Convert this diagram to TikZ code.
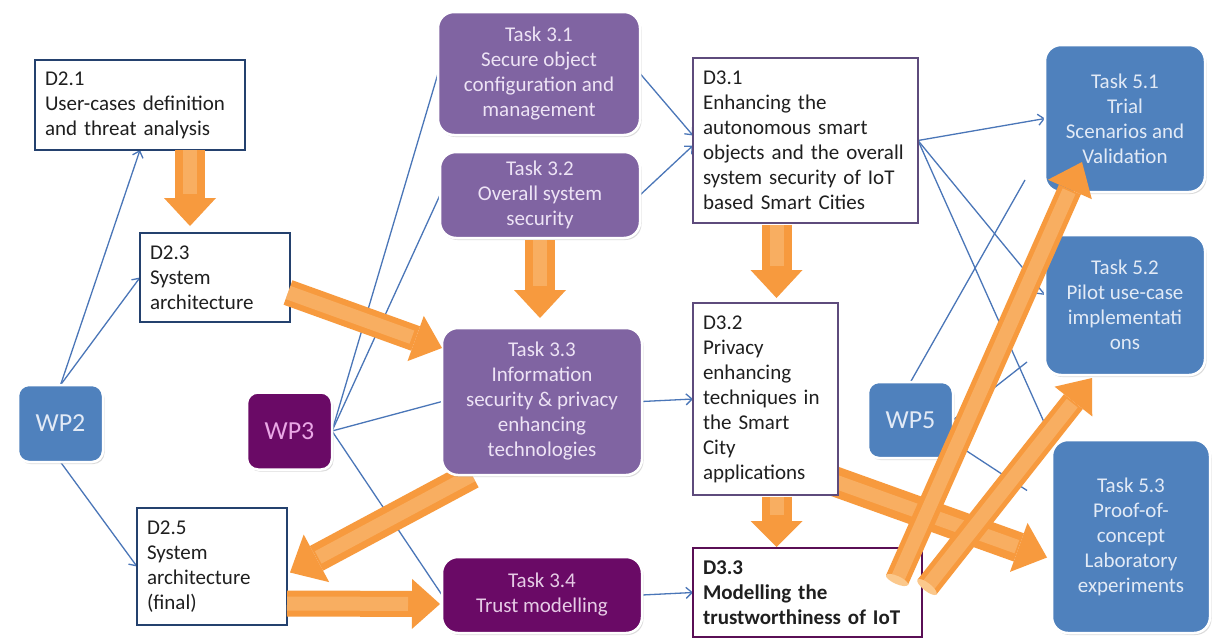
\documentclass[tikz,border=0pt]{standalone}
\usepackage{fontspec}
\setmainfont{Carlito}
\usetikzlibrary{arrows.meta,calc,shadows}

\definecolor{navyB}{HTML}{24416E}
\definecolor{purpB}{HTML}{5E4B7C}
\definecolor{plumB}{HTML}{5A0F55}
\definecolor{blueF}{HTML}{4F81BD}
\definecolor{purpF}{HTML}{8064A2}
\definecolor{plumF}{HTML}{6A0A66}
\definecolor{blueT}{HTML}{E2EAF6}
\definecolor{purpT}{HTML}{EDE3F5}
\definecolor{plumT}{HTML}{E6CBE6}
\definecolor{wpT}{HTML}{EAA8E6}
\definecolor{lineB}{HTML}{4A76B8}
\definecolor{orangeA}{HTML}{F79A3E}
\definecolor{orangeL}{HTML}{FBC88C}

\pgfdeclarelayer{paper}
\pgfdeclarelayer{back}
\pgfdeclarelayer{front}
\pgfsetlayers{paper,back,main,front}

% thick orange block arrow: shaft width, head width, head length, from, to
\newcommand{\orangearrow}[5]{%
  \draw[line width=#1, draw=orangeA, line cap=butt,
        -{Triangle[length=#3,width=#2,line width=0pt]}] #4 -- #5;
  \draw[line width=14pt, draw=orangeL, opacity=0.45, line cap=butt,
        shorten >=32pt] #4 -- #5;
}

\begin{document}
\begin{tikzpicture}[x=1pt,y=-1pt,
  dbox/.style={draw=navyB, line width=2.2pt, fill=white, inner xsep=10pt,
    inner ysep=4pt, align=left, text=black!88,
    font=\fontsize{21}{25}\selectfont, outer sep=0pt},
  rbox/.style={rounded corners=16pt, draw=white, line width=2.5pt,
    align=center, font=\fontsize{21}{25}\selectfont, inner sep=4pt,
    outer sep=0pt,
    drop shadow={shadow xshift=1.5pt, shadow yshift=-2pt, opacity=0.28}},
  ptask/.style={rbox, fill=purpF, text=purpT},
  ktask/.style={rbox, fill=plumF, text=plumT},
  btask/.style={rbox, fill=blueF, text=blueT},
  wpbox/.style={rbox, rounded corners=11pt, minimum width=85pt,
    minimum height=77pt, font=\fontsize{26}{30}\selectfont},
  link/.style={draw=lineB, line width=1.3pt},
  linkarrow/.style={link, -{Straight Barb[length=6pt,width=11pt]}},
]
\useasboundingbox (0,0) rectangle (1214,640);
\begin{pgfonlayer}{paper}
  \fill[white] (0,0) rectangle (1214,640);
\end{pgfonlayer}

% ---- WP2 deliverables
\node[dbox, text width=190pt, minimum height=90pt] (d21) at (140,105)
  {D2.1\\User-cases definition\\and threat analysis};
\node[dbox, text width=130pt, minimum height=89pt] (d23) at (215,277.5)
  {D2.3\\System\\architecture};
\node[dbox, text width=130pt, minimum height=117pt] (d25) at (212,566.5)
  {D2.5\\System\\architecture\\(final)};
\node[wpbox, fill=blueF, text=blueT] (wp2) at (60.5,423.5) {WP2};

% ---- WP3 tasks
\node[wpbox, fill=plumF, text=wpT] (wp3) at (289.5,431) {WP3};
\node[ptask, minimum width=202pt, minimum height=123pt] (t31) at (539,73.5)
  {Task 3.1\\Secure object\\configuration and\\management};
\node[ptask, minimum width=200pt, minimum height=86pt] (t32) at (540,195)
  {Task 3.2\\Overall system\\security};
\node[ptask, minimum width=200pt, minimum height=147pt] (t33) at (542,401.5)
  {Task 3.3\\Information\\security \& privacy\\enhancing\\technologies};
\node[ktask, minimum width=200pt, minimum height=76pt] (t34) at (542,595)
  {Task 3.4\\Trust modelling};

% ---- WP3 deliverables
\node[dbox, draw=purpB, text width=205pt, minimum height=165pt] (d31) at (805.5,140.5)
  {D3.1\\Enhancing the\\autonomous smart\\objects and the overall\\system security of IoT\\based Smart Cities};
\node[dbox, draw=purpB, text width=125pt, minimum height=192pt] (d32) at (765.5,399)
  {D3.2\\Privacy\\enhancing\\techniques in\\the Smart\\City\\applications};
\node[dbox, draw=plumB, line width=2.6pt, text width=209pt, minimum height=89pt,
  font=\fontsize{21}{25}\selectfont\bfseries] (d33) at (807.5,592.5)
  {D3.3\\Modelling the\\trustworthiness of IoT};

% ---- WP5 tasks
\node[wpbox, fill=blueF, text=blueT, minimum height=76pt] (wp5) at (910.5,420) {WP5};
\node[btask, minimum width=160pt, minimum height=147pt] (t51) at (1125,118.5)
  {Task 5.1\\Trial\\Scenarios and\\Validation};
\node[btask, minimum width=160pt, minimum height=140pt] (t52) at (1125,305)
  {Task 5.2\\Pilot use-case\\implementati\\ons};
\node[btask, minimum width=158pt, minimum height=193pt] (t53) at (1131,536.5)
  {Task 5.3\\Proof-of-\\concept\\Laboratory\\experiments};

% free ends of the WP5 links
\coordinate (w51) at ($(t51.south west)+(-20,-12)$);
\coordinate (w52) at ($(t52.south west)+(-18,-13)$);
\coordinate (w53) at ($(t53.west)+(-25,-46)$);

\begin{pgfonlayer}{back}
  % WP2 links
  \draw[linkarrow] (wp2.north) -- (d21.south);
  \draw[linkarrow] (wp2.north) -- (d23.west);
  \draw[linkarrow] (wp2.south) -- (d25.west);
  % WP3 links
  \draw[link] (wp3.east) -- (t31.west);
  \draw[link] (wp3.east) -- (t32.west);
  \draw[link] (wp3.east) -- (t33.west);
  \draw[link] (wp3.east) -- (t34.west);
  % tasks to deliverables
  \draw[linkarrow] (t31.east) -- ($(d31.west)+(0,-5)$);
  \draw[linkarrow] (t32.east) -- ($(d31.west)+(0,5)$);
  \draw[linkarrow] (t33.east) -- (d32.west);
  \draw[linkarrow] (t34.east) -- (d33.west);
  % D3.1 to WP5 tasks
  \draw[linkarrow] (d31.east) -- (t51.west);
  \draw[linkarrow] (d31.east) -- ($(t52.west)+(0,-10)$);
  \draw[linkarrow] (d31.east) -- (t53.north west);
  % WP5 links
  \draw[link] (wp5.north) -- (w51);
  \draw[link] (wp5.east) -- (w52);
  \draw[link] ($(wp5.east)+(0,22)$) -- (w53);
  % block arrows passing under boxes
  \orangearrow{28pt}{54pt}{30pt}{($(t33.south west)+(30,0)$)}{($(d25.east)+(3,6)$)}
  \orangearrow{30pt}{52pt}{30pt}{($(d32.east)+(-10,80)$)}{($(t53.west)+(-5,21)$)}
\end{pgfonlayer}

\begin{pgfonlayer}{front}
  \orangearrow{30pt}{52pt}{28pt}{($(d21.south)+(50,0)$)}{($(d23.north)+(-25,-7)$)}
  \orangearrow{26pt}{48pt}{28pt}{($(d23.east)+(-2,15)$)}{($(t33.north west)+(0,20)$)}
  \orangearrow{30pt}{52pt}{28pt}{($(t32.south)+(0,2)$)}{($(t32.south |- t33.north)+(0,-10)$)}
  \orangearrow{26pt}{50pt}{28pt}{($(d25.east)+(0,37)$)}{($(t34.west)+(-2,9)$)}
  \orangearrow{30pt}{52pt}{28pt}{($(d31.south)+(-29,2)$)}{($(d32.north)+(11,-5)$)}
  \orangearrow{30pt}{52pt}{26pt}{($(d32.south)+(11,2)$)}{($(d33.north)+(-31,-1)$)}
  \orangearrow{24pt}{48pt}{30pt}{($(d33.north east)+(-25,32)$)}{($(t51.south west)+(37,-30)$)}
  \orangearrow{24pt}{48pt}{30pt}{($(d33.north east)+(5,39)$)}{($(t52.south west)+(47,3)$)}
  % light end caps on the two long arrows
  \fill[orangeL] ($(d33.north east)+(-25,32)$) ellipse [x radius=12pt, y radius=4pt, rotate=-24];
  \fill[orangeL] ($(d33.north east)+(5,39)$) ellipse [x radius=12pt, y radius=4pt, rotate=-38];
\end{pgfonlayer}
\end{tikzpicture}
\end{document}
